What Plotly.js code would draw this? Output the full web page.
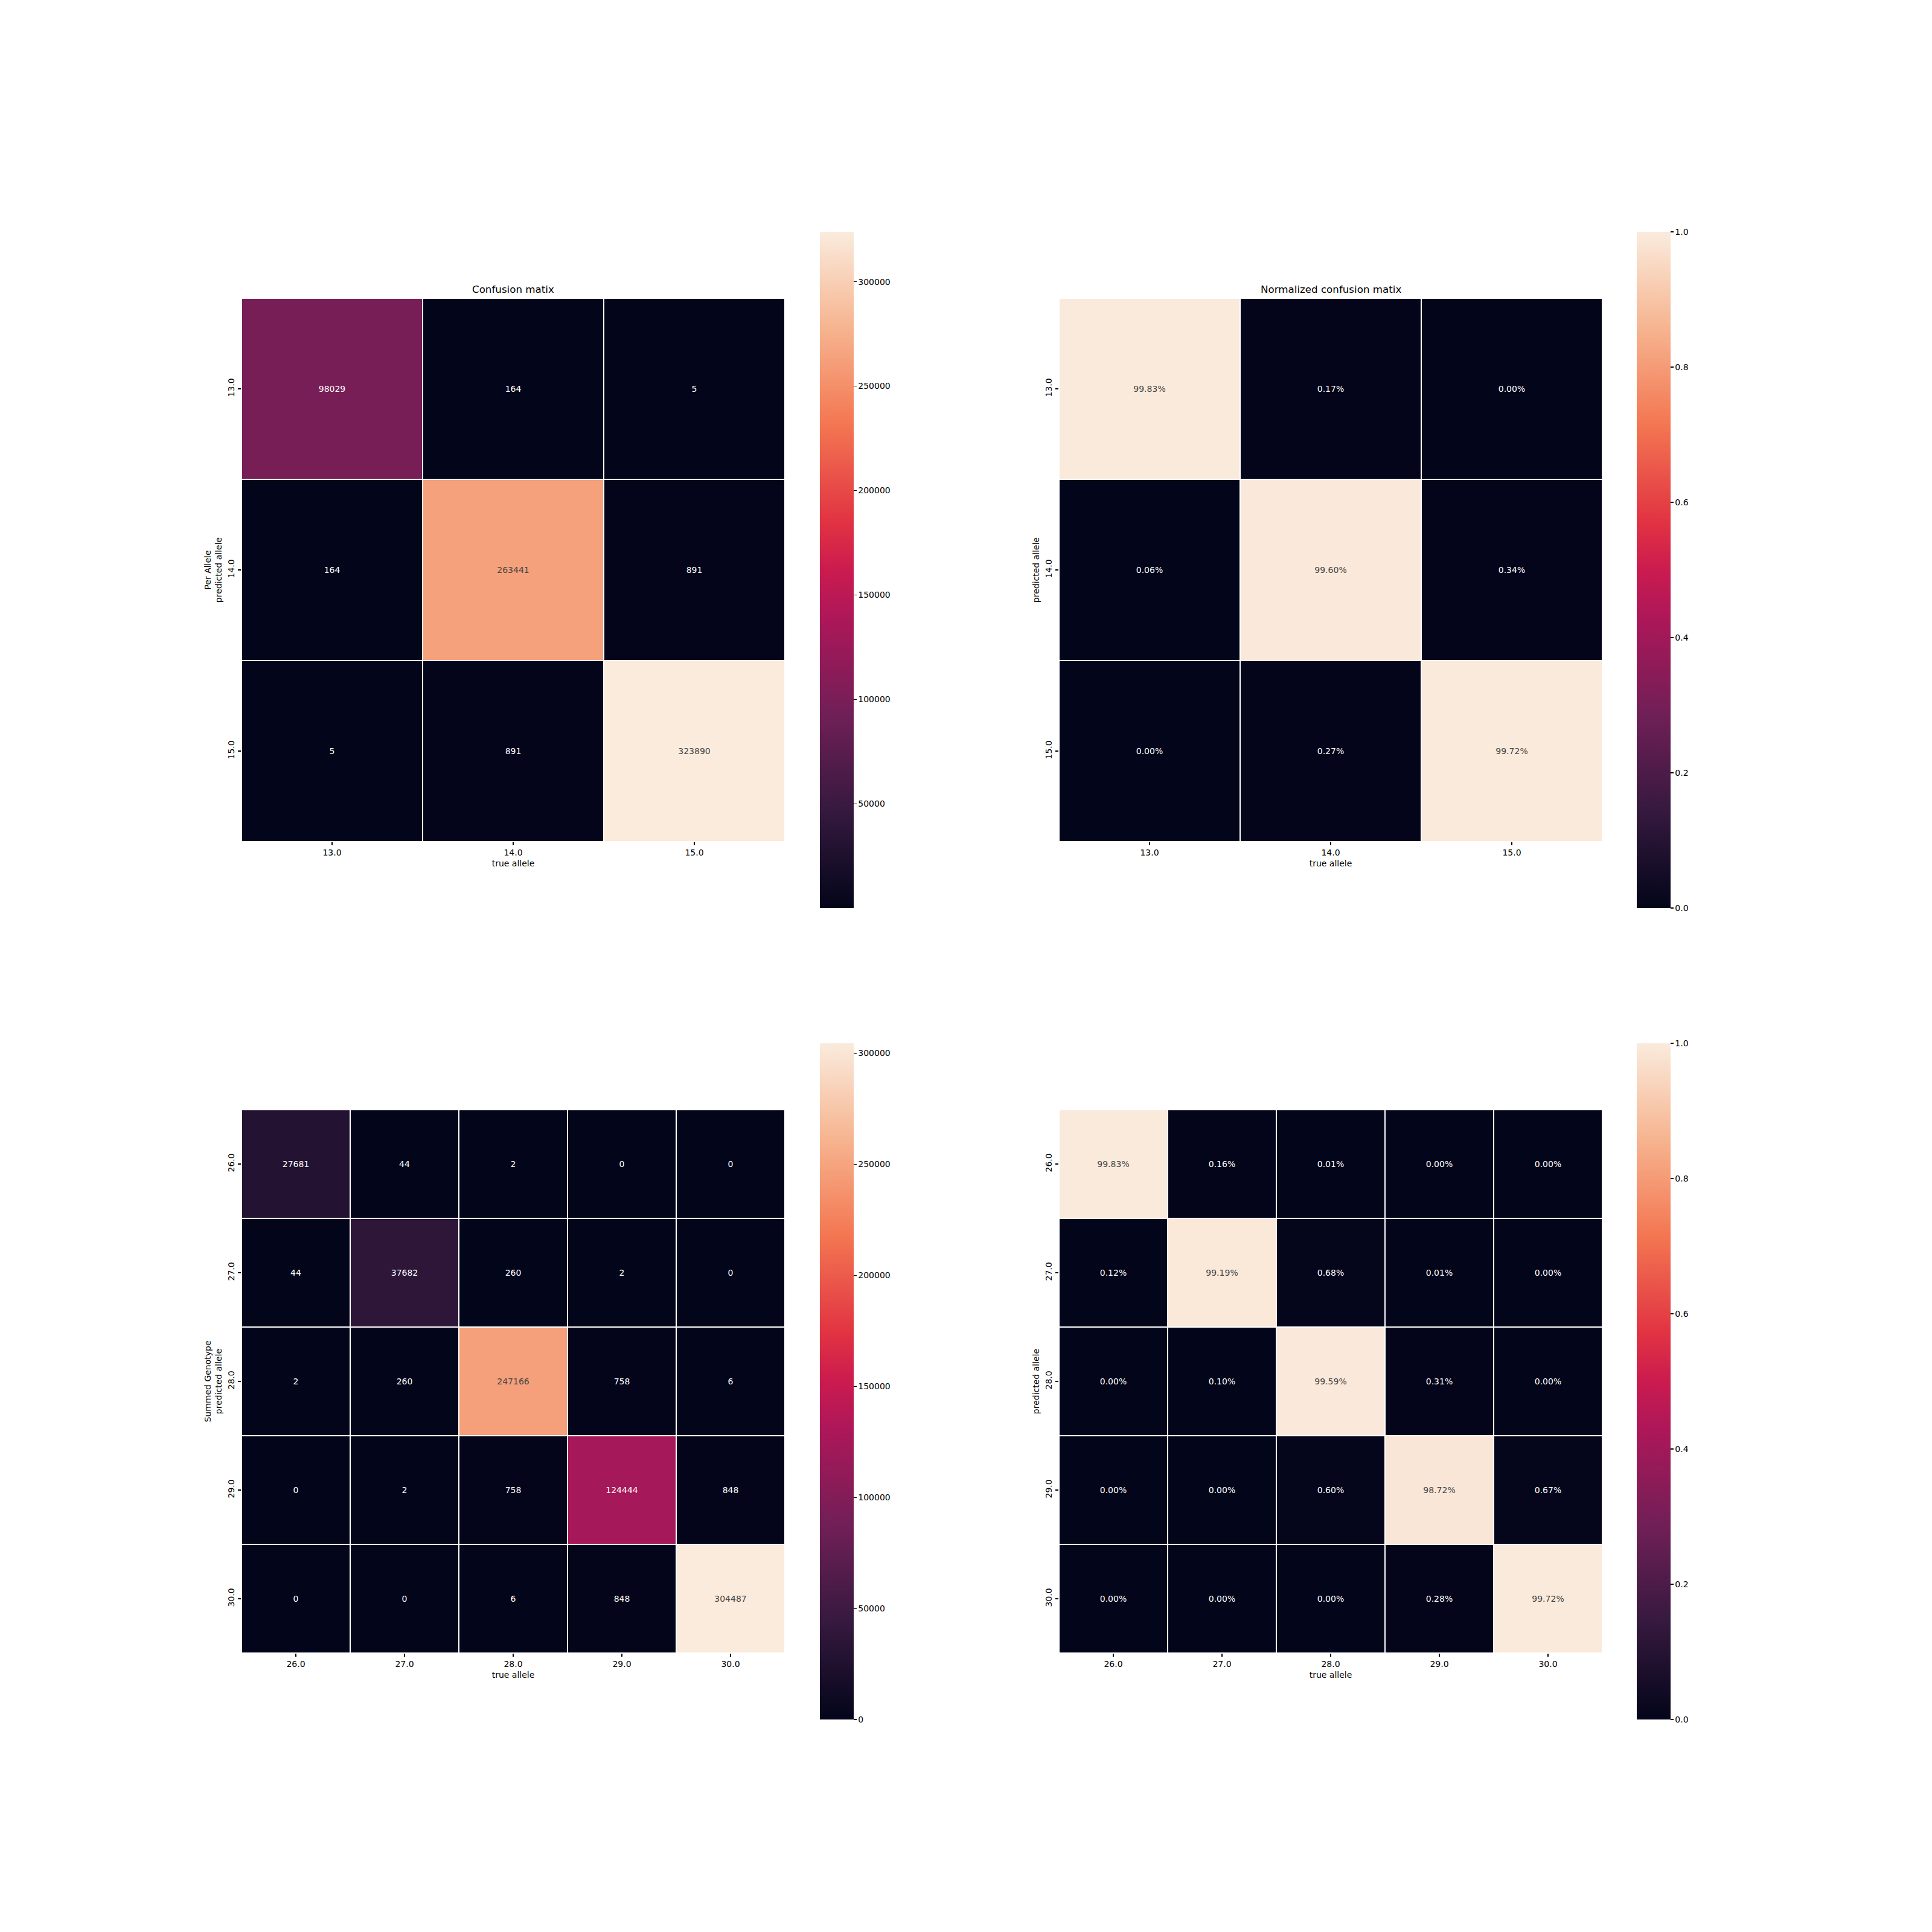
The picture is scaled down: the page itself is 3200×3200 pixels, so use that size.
<!DOCTYPE html>
<html>
<head>
<meta charset="utf-8">
<script src="https://cdn.plot.ly/plotly-3.0.1.min.js"></script>
<style>html,body{margin:0;padding:0;background:#fff;}#chart{width:3200px;height:3200px;}</style>
</head>
<body>
<div id="chart"></div>
<script>
// ---- data ----
const allelesPer = ['13.0', '14.0', '15.0'];
const countsPer = [
  [98029, 164, 5],
  [164, 263441, 891],
  [5, 891, 323890]
];
const normPer = [
  [0.9983, 0.0017, 0.0000],
  [0.0006, 0.9960, 0.0034],
  [0.0000, 0.0027, 0.9972]
];
const allelesSum = ['26.0', '27.0', '28.0', '29.0', '30.0'];
const countsSum = [
  [27681, 44, 2, 0, 0],
  [44, 37682, 260, 2, 0],
  [2, 260, 247166, 758, 6],
  [0, 2, 758, 124444, 848],
  [0, 0, 6, 848, 304487]
];
const normSum = [
  [0.9983, 0.0016, 0.0001, 0.0000, 0.0000],
  [0.0012, 0.9919, 0.0068, 0.0001, 0.0000],
  [0.0000, 0.0010, 0.9959, 0.0031, 0.0000],
  [0.0000, 0.0000, 0.0060, 0.9872, 0.0067],
  [0.0000, 0.0000, 0.0000, 0.0028, 0.9972]
];
const countTicksPer = [50000, 100000, 150000, 200000, 250000, 300000];
const countTicksSum = [0, 50000, 100000, 150000, 200000, 250000, 300000];
const normTicks = [0, 0.2, 0.4, 0.6, 0.8, 1.0];
const titles = ['Confusion matix', 'Normalized confusion matix', '', ''];
const yTitles = ['Per Allele<br>predicted allele', 'predicted allele', 'Summed Genotype<br>predicted allele', 'predicted allele'];
const xTitle = 'true allele';

// ---- style ----
const rocket = [
  [0, '#03051a'], [1/7, '#35193e'], [2/7, '#701f57'], [3/7, '#ad1759'],
  [0.5, '#cb1b4f'], [4/7, '#e13342'], [5/7, '#f37651'], [6/7, '#f6b48f'], [1, '#faebdd']
];
const W = 3200;
const FONT = 'DejaVu Sans, sans-serif';
const px = v => v / W;
const py = v => 1 - v / W;

const xDom = [[400, 1300], [1754, 2654], [400, 1300], [1754, 2654]];
const yDom = [[494, 1394], [494, 1394], [1838, 2738], [1838, 2738]];
const cbX = [1358, 2711, 1358, 2711];
const cbY = [[384, 1504], [384, 1504], [1728, 2848], [1728, 2848]];

const mats = [countsPer, normPer, countsSum, normSum];
const cats = [allelesPer, allelesPer, allelesSum, allelesSum];
const isNorm = [false, true, false, true];
const cbTicks = [countTicksPer, normTicks, countTicksSum, normTicks];

const traces = [];
const layout = {
  width: W, height: W,
  margin: {l: 0, r: 0, t: 0, b: 0},
  paper_bgcolor: '#fff', plot_bgcolor: '#fff',
  font: {family: FONT, size: 14, color: '#000'},
  showlegend: false,
  annotations: []
};

for (let i = 0; i < 4; i++) {
  const n = i + 1;
  const sfx = n === 1 ? '' : String(n);
  traces.push({
    type: 'heatmap',
    x: cats[i], y: cats[i], z: mats[i],
    xaxis: 'x' + sfx, yaxis: 'y' + sfx,
    coloraxis: 'coloraxis' + sfx,
    xgap: 2, ygap: 2,
    texttemplate: isNorm[i] ? '%{z:.2%}' : '%{z:d}',
    textfont: {family: FONT, size: 14},
    hoverinfo: 'skip'
  });
  layout['xaxis' + sfx] = {
    domain: [px(xDom[i][0]), px(xDom[i][1])],
    anchor: 'y' + sfx, type: 'category',
    showgrid: false, zeroline: false, showline: false,
    ticks: 'outside', ticklen: 5, tickwidth: 1.1, tickcolor: '#000',
    tickfont: {family: FONT, size: 14, color: '#000'},
    title: {text: xTitle, font: {family: FONT, size: 14, color: '#000'}, standoff: 6},
    fixedrange: true
  };
  layout['yaxis' + sfx] = {
    domain: [py(yDom[i][1]), py(yDom[i][0])],
    anchor: 'x' + sfx, type: 'category', autorange: 'reversed',
    showgrid: false, zeroline: false, showline: false,
    ticks: 'outside', ticklen: 5, tickwidth: 1.1, tickcolor: '#000',
    tickangle: -90,
    tickfont: {family: FONT, size: 14, color: '#000'},
    title: {text: yTitles[i], font: {family: FONT, size: 14, color: '#000'}, standoff: 4},
    fixedrange: true
  };
  const cax = {
    colorscale: rocket,
    colorbar: {
      x: px(cbX[i]), xanchor: 'left', xpad: 0,
      y: py((cbY[i][0] + cbY[i][1]) / 2), yanchor: 'middle', ypad: 0,
      len: cbY[i][1] - cbY[i][0], lenmode: 'pixels',
      thickness: 56, thicknessmode: 'pixels',
      outlinewidth: 0,
      ticks: 'outside', ticklen: 5, tickwidth: 1.1, tickcolor: '#000',
      tickfont: {family: FONT, size: 14, color: '#000'},
      tickmode: 'array', tickvals: cbTicks[i],
      tickformat: isNorm[i] ? '.1f' : 'd'
    }
  };
  if (isNorm[i]) { cax.cmin = 0; cax.cmax = 1; }
  layout['coloraxis' + sfx] = cax;
  if (titles[i]) {
    layout.annotations.push({
      xref: 'paper', yref: 'paper',
      x: px((xDom[i][0] + xDom[i][1]) / 2), y: py(yDom[i][0] - 15),
      xanchor: 'center', yanchor: 'middle',
      text: titles[i], showarrow: false,
      font: {family: FONT, size: 16.7, color: '#000'}
    });
  }
}

Plotly.newPlot('chart', traces, layout, {staticPlot: true});
</script>
</body>
</html>
